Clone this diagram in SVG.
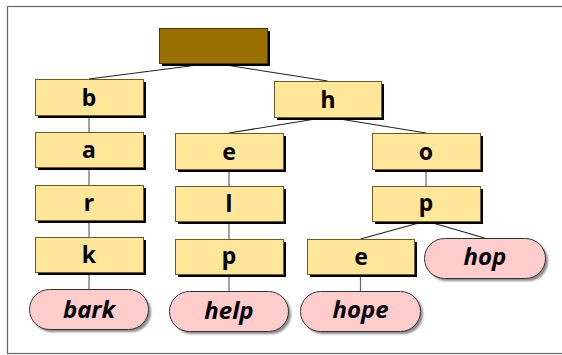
<svg xmlns="http://www.w3.org/2000/svg" width="562" height="355" viewBox="0 0 562 355">
<defs>
<style>
.frame{fill:#fff;stroke:#666;stroke-width:1.2}
.box{fill:#ffe699;stroke:#6b5a2a;stroke-width:1}
.sh{fill:#000}
.root{fill:#997000;stroke:#4d3800;stroke-width:1}
.pill{fill:#ffcccc;stroke:#333;stroke-width:1}
.psh{fill:#888;filter:url(#blur)}
.v{stroke:#666;stroke-width:1.2;fill:none}
.d{stroke:#222;stroke-width:1.1;fill:none}
.t{font-family:"Noto Sans","DejaVu Sans",sans-serif;font-weight:bold;font-size:23px;text-anchor:middle;fill:#000}
.ti{font-family:"Noto Sans","DejaVu Sans",sans-serif;font-weight:bold;font-style:italic;font-size:24px;text-anchor:middle;fill:#000}
</style>
<filter id="blur" x="-10%" y="-20%" width="120%" height="140%"><feGaussianBlur stdDeviation="1"/></filter>
</defs>
<rect class="frame" x="7.5" y="6.5" width="560" height="347"/>
<g id="connectors">
<line class="d" x1="213" y1="63" x2="89" y2="79"/>
<line class="d" x1="213" y1="63" x2="327.5" y2="81"/>
<line class="v" x1="89" y1="115" x2="89" y2="132"/>
<line class="v" x1="89" y1="167" x2="89" y2="185"/>
<line class="v" x1="89" y1="220" x2="89" y2="237"/>
<line class="v" x1="89" y1="272" x2="89" y2="289"/>
<line class="d" x1="327.5" y1="117" x2="229" y2="133"/>
<line class="d" x1="327.5" y1="117" x2="426" y2="133"/>
<line class="v" x1="229" y1="169" x2="229" y2="186"/>
<line class="v" x1="229" y1="221" x2="229" y2="239"/>
<line class="v" x1="229" y1="274" x2="229" y2="291"/>
<line class="v" x1="426" y1="169" x2="426" y2="186"/>
<line class="d" x1="426" y1="221" x2="360.5" y2="239"/>
<line class="d" x1="426" y1="221" x2="484.5" y2="238"/>
<line class="v" x1="360.5" y1="274" x2="360.5" y2="291"/>
</g>
<g id="root"><rect class="sh" x="162" y="31" width="108" height="35"/><rect class="root" x="159.5" y="28.5" width="108" height="35"/></g>
<g id="n-b"><rect class="sh" x="38" y="82" width="108" height="36"/><rect class="box" x="35.5" y="79.5" width="108" height="36"/><text class="t" x="89" y="106">b</text></g>
<g id="n-a"><rect class="sh" x="38" y="135" width="108" height="35"/><rect class="box" x="35.5" y="132.5" width="108" height="35"/><text class="t" x="89" y="157.5">a</text></g>
<g id="n-r"><rect class="sh" x="38" y="188" width="108" height="35"/><rect class="box" x="35.5" y="185.5" width="108" height="35"/><text class="t" x="89" y="210.5">r</text></g>
<g id="n-k"><rect class="sh" x="38" y="240" width="108" height="35"/><rect class="box" x="35.5" y="237.5" width="108" height="35"/><text class="t" x="89" y="263">k</text></g>
<g id="w-bark"><rect class="psh" x="32" y="292" width="119" height="40" rx="20"/><rect class="pill" x="29.5" y="289.5" width="119" height="40" rx="20"/><text class="ti" x="89" y="317.5">bark</text></g>
<g id="n-h"><rect class="sh" x="277" y="84" width="107" height="36"/><rect class="box" x="274.5" y="81.5" width="107" height="36"/><text class="t" x="328" y="108">h</text></g>
<g id="n-e"><rect class="sh" x="178" y="136" width="108" height="36"/><rect class="box" x="175.5" y="133.5" width="108" height="36"/><text class="t" x="229" y="159.5">e</text></g>
<g id="n-l"><rect class="sh" x="178" y="189" width="108" height="35"/><rect class="box" x="175.5" y="186.5" width="108" height="35"/><text class="t" x="229" y="212">l</text></g>
<g id="n-p1"><rect class="sh" x="178" y="242" width="108" height="35"/><rect class="box" x="175.5" y="239.5" width="108" height="35"/><text class="t" x="229" y="264">p</text></g>
<g id="w-help"><rect class="psh" x="172" y="294" width="119" height="40" rx="20"/><rect class="pill" x="169.5" y="291.5" width="119" height="40" rx="20"/><text class="ti" x="229" y="319">help</text></g>
<g id="n-o"><rect class="sh" x="375" y="136" width="108" height="36"/><rect class="box" x="372.5" y="133.5" width="108" height="36"/><text class="t" x="426" y="159.5">o</text></g>
<g id="n-p2"><rect class="sh" x="375" y="189" width="108" height="35"/><rect class="box" x="372.5" y="186.5" width="108" height="35"/><text class="t" x="426" y="211">p</text></g>
<g id="n-e2"><rect class="sh" x="310" y="242" width="107" height="35"/><rect class="box" x="307.5" y="239.5" width="107" height="35"/><text class="t" x="361" y="264.5">e</text></g>
<g id="w-hop"><rect class="psh" x="427" y="241" width="121" height="40" rx="20"/><rect class="pill" x="424.5" y="238.5" width="121" height="40" rx="20"/><text class="ti" x="485" y="265">hop</text></g>
<g id="w-hope"><rect class="psh" x="303" y="294" width="120" height="40" rx="20"/><rect class="pill" x="300.5" y="291.5" width="120" height="40" rx="20"/><text class="ti" x="360.5" y="318">hope</text></g>
</svg>
